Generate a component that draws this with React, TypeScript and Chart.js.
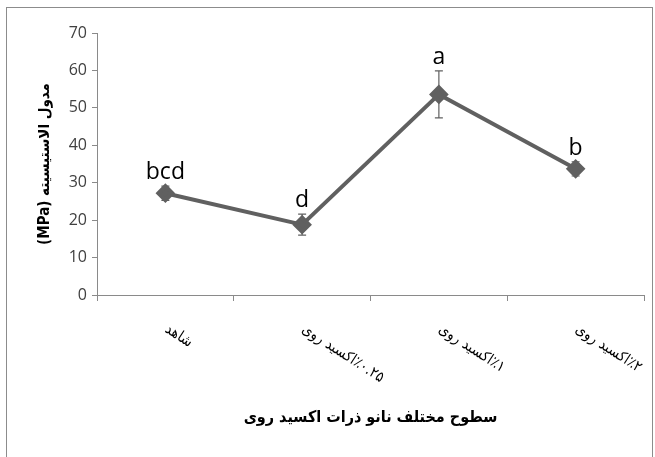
import { useEffect, useRef } from "react";
import { Chart, registerables } from "chart.js";

Chart.register(...registerables);

const categories = ["شاهد", "٪۰.۲۵اکسید روی", "٪۱اکسید روی", "٪۲اکسید روی"];
const modulus = [27.2, 18.8, 53.6, 33.7];
const errors = [1.9, 2.8, 6.3, 1.9];
const letters = ["bcd", "d", "a", "b"];
const yTitle = "مدول الاستیسیته (MPa)";
const xTitle = "سطوح مختلف نانو ذرات اکسید روی";

const GREY = "#606060";
const AXIS = "#8a8a8a";

const decorPlugin = {
  id: "decor",
  beforeDraw(chart: any) {
    const { ctx, width, height } = chart;
    ctx.save();
    ctx.fillStyle = "#ffffff";
    ctx.fillRect(0, 0, width, height);
    ctx.strokeStyle = "#8c8c8c";
    ctx.lineWidth = 1;
    ctx.strokeRect(6.5, 7.5, 646, height + 20);
    ctx.restore();
  },
  beforeDatasetsDraw(chart: any) {
    const { ctx } = chart;
    const y = chart.scales.y;
    const meta = chart.getDatasetMeta(0);
    ctx.save();
    ctx.strokeStyle = GREY;
    ctx.lineWidth = 1.2;
    modulus.forEach((v, i) => {
      const x = meta.data[i].x;
      const top = y.getPixelForValue(v + errors[i]);
      const bot = y.getPixelForValue(v - errors[i]);
      ctx.beginPath();
      ctx.moveTo(x, top);
      ctx.lineTo(x, bot);
      ctx.moveTo(x - 4, top);
      ctx.lineTo(x + 4, top);
      ctx.moveTo(x - 4, bot);
      ctx.lineTo(x + 4, bot);
      ctx.stroke();
    });
    ctx.restore();
  },
  afterDraw(chart: any) {
    const { ctx } = chart;
    const xs = chart.scales.x;
    const ys = chart.scales.y;
    const meta = chart.getDatasetMeta(0);
    ctx.save();
    ctx.fillStyle = "#000000";
    ctx.font = "15px 'DejaVu Sans Condensed', 'DejaVu Sans'";
    ctx.direction = "rtl";
    ctx.textAlign = "left";
    ctx.textBaseline = "middle";
    categories.forEach((c, i) => {
      const x = xs.getPixelForValue(i);
      ctx.save();
      ctx.translate(x + 1, xs.top + 33);
      ctx.rotate((33 * Math.PI) / 180);
      ctx.fillText(c, 0, 0);
      ctx.restore();
    });
    ctx.font = "bold 15px 'DejaVu Sans Condensed', 'DejaVu Sans'";
    ctx.textAlign = "center";
    ctx.save();
    ctx.translate(45, (ys.top + ys.bottom) / 2);
    ctx.rotate(-Math.PI / 2);
    ctx.fillText(yTitle, 0, 0);
    ctx.restore();
    ctx.font = "bold 16px 'DejaVu Sans Condensed', 'DejaVu Sans'";
    ctx.fillText(xTitle, (xs.left + xs.right) / 2, 418);
    ctx.direction = "ltr";
    ctx.font = "23px 'Open Sans'";
    ctx.textBaseline = "alphabetic";
    letters.forEach((l, i) => {
      const x = meta.data[i].x;
      const top = ys.getPixelForValue(modulus[i] + errors[i]);
      ctx.fillText(l, x, top - 7);
    });
    ctx.restore();
  },
};

export default function App() {
  const ref = useRef<HTMLCanvasElement>(null);
  useEffect(() => {
    if (!ref.current) return;
    const chart = new Chart(ref.current, {
      type: "line",
      data: {
        labels: categories,
        datasets: [
          {
            data: modulus,
            borderColor: GREY,
            backgroundColor: GREY,
            borderWidth: 4,
            pointStyle: "rectRot",
            pointRadius: 7,
            pointBackgroundColor: GREY,
            pointBorderColor: GREY,
            tension: 0,
          },
        ],
      },
      options: {
        responsive: false,
        animation: false,
        layout: { padding: { top: 33, right: 11, left: 0, bottom: 0 } },
        plugins: { legend: { display: false }, tooltip: { enabled: false } },
        scales: {
          x: {
            offset: true,
            grid: {
              offset: true,
              drawOnChartArea: false,
              drawTicks: true,
              tickLength: 6,
              color: AXIS,
            },
            border: { color: AXIS, width: 1 },
            ticks: { display: false },
            afterFit(scale: any) {
              scale.height = 162;
            },
          },
          y: {
            min: 0,
            max: 70,
            ticks: {
              stepSize: 10,
              color: "#404040",
              font: { size: 16, family: "'Open Sans'" },
              padding: 5,
            },
            grid: {
              drawOnChartArea: false,
              drawTicks: true,
              tickLength: 5,
              color: AXIS,
            },
            border: { color: AXIS, width: 1 },
            afterFit(scale: any) {
              scale.width = 97;
            },
          },
        },
      },
      plugins: [decorPlugin],
    });
    return () => chart.destroy();
  }, []);
  return (
    <div style={{ position: "fixed", left: 0, top: 0, width: 655, height: 457 }}>
      <canvas ref={ref} width={655} height={457} style={{ display: "block" }} />
    </div>
  );
}
